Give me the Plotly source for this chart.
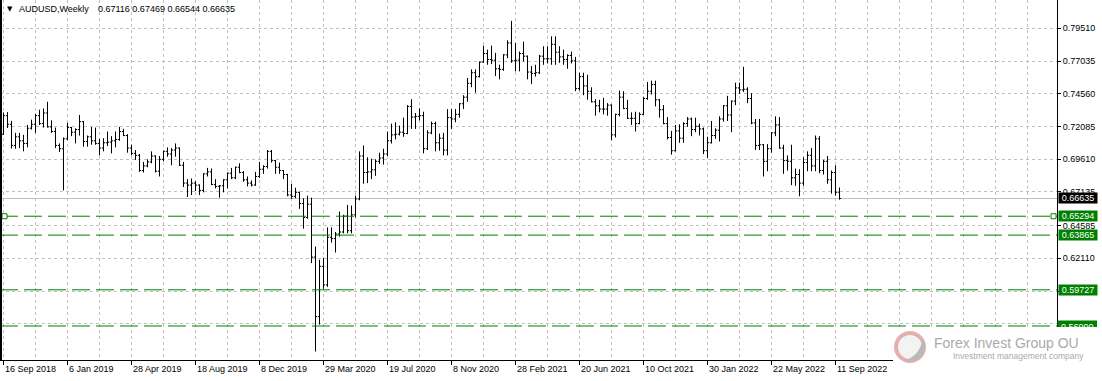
import plotly.graph_objects as go

# ---------------- data ----------------
opens = [
    .7150, .7290, .7225, .7065, .7130, .7100, .7080, .7195, .7225, .7290, .7230, .7310, .7205, .7170, .7065, .7040,
    .7115, .7200, .7165, .7185, .7245, .7095, .7130, .7100, .7080, .7045, .7085, .7090, .7100, .7110, .7170, .7140,
    .7045, .7005, .6990, .6875, .6910, .6940, .6985, .6870, .6960, .7020, .7000, .7030, .7045, .6915, .6780, .6765,
    .6780, .6765, .6725, .6850, .6865, .6770, .6755, .6760, .6805, .6855, .6820, .6900, .6860, .6805, .6780, .6765,
    .6830, .6885, .6905, .7020, .6950, .6900, .6875, .6845, .6690, .6680, .6710, .6625, .6520, .6620, .6220, .5770,
    .6150, .6010, .6370, .6360, .6395, .6410, .6530, .6420, .6540, .6660, .6985, .6860, .6865, .6880, .6945, .6970,
    .7000, .7100, .7145, .7150, .7165, .7155, .7360, .7280, .7285, .7290, .7040, .7160, .7230, .7085, .7120, .7030,
    .7275, .7265, .7300, .7380, .7430, .7535, .7615, .7585, .7695, .7760, .7715, .7710, .7645, .7640, .7750, .7840,
    .7705, .7710, .7760, .7740, .7620, .7610, .7615, .7740, .7720, .7720, .7830, .7770, .7735, .7715, .7745, .7705,
    .7495, .7585, .7515, .7475, .7395, .7365, .7340, .7340, .7370, .7145, .7300, .7430, .7345, .7270, .7270, .7230,
    .7300, .7420, .7475, .7525, .7410, .7335, .7230, .7125, .7025, .7175, .7120, .7230, .7265, .7185, .7210, .7190,
    .7025, .7085, .7140, .7180, .7265, .7365, .7295, .7400, .7500, .7485, .7490, .7420, .7235, .7065, .7070, .6945,
    .7040, .7160, .7220, .7045, .6950, .6945, .6820, .6845, .6780, .6935, .6990, .6910, .7115, .6875, .6945, .6805,
    .6860, .67116,
]
highs = [
    .7314, .7317, .7250, .7160, .7160, .7145, .7220, .7260, .7305, .7335, .7345, .7395, .7255, .7200, .7080, .7125,
    .7235, .7205, .7195, .7295, .7250, .7140, .7205, .7200, .7115, .7120, .7170, .7135, .7170, .7205, .7190, .7150,
    .7070, .7030, .7000, .6940, .6960, .7020, .6990, .6985, .7025, .7050, .7045, .7080, .7050, .6940, .6810, .6815,
    .6795, .6770, .6855, .6895, .6890, .6810, .6765, .6810, .6860, .6895, .6905, .6930, .6870, .6830, .6800, .6865,
    .6940, .6915, .7030, .7030, .6955, .6935, .6880, .6850, .6775, .6745, .6715, .6665, .6685, .6670, .6300, .6200,
    .6215, .6445, .6445, .6410, .6565, .6540, .6615, .6610, .6685, .7020, .7065, .6975, .6965, .6960, .7010, .7040,
    .7170, .7230, .7240, .7215, .7275, .7370, .7415, .7310, .7345, .7320, .7180, .7245, .7245, .7155, .7160, .7340,
    .7340, .7340, .7385, .7445, .7575, .7640, .7640, .7700, .7820, .7790, .7820, .7765, .7675, .7755, .7860, .8007,
    .7840, .7775, .7850, .7745, .7665, .7675, .7750, .7815, .7815, .7890, .7890, .7815, .7790, .7755, .7775, .7735,
    .7615, .7615, .7600, .7505, .7415, .7410, .7425, .7385, .7375, .7305, .7480, .7475, .7410, .7315, .7320, .7315,
    .7430, .7545, .7555, .7555, .7415, .7370, .7280, .7175, .7220, .7225, .7240, .7280, .7275, .7275, .7230, .7200,
    .7130, .7250, .7195, .7285, .7370, .7440, .7405, .7540, .7540, .7660, .7505, .7460, .7265, .7265, .7075, .7075,
    .7165, .7285, .7280, .7070, .6990, .7070, .6890, .6885, .6975, .7020, .7045, .7140, .7135, .6955, .6985, .6875,
    .6915, .67469,
]
lows = [
    .7145, .7197, .7042, .7040, .7045, .7020, .7050, .7185, .7160, .7220, .7200, .7200, .7160, .7045, .7015, .6725,
    .7105, .7135, .7080, .7140, .7055, .7055, .7070, .7070, .6990, .7020, .7060, .7005, .7050, .7100, .7135, .7010,
    .6990, .6955, .6865, .6860, .6900, .6930, .6860, .6830, .6945, .6980, .6915, .6980, .6910, .6750, .6675, .6690,
    .6720, .6690, .6710, .6830, .6765, .6740, .6670, .6710, .6740, .6810, .6810, .6855, .6790, .6755, .6755, .6760,
    .6820, .6850, .6890, .6935, .6850, .6850, .6810, .6680, .6660, .6665, .6585, .6435, .6510, .6175, .5506, .5710,
    .5980, .5995, .6330, .6255, .6375, .6400, .6400, .6400, .6520, .6650, .6775, .6780, .6810, .6835, .6925, .6920,
    .6985, .7080, .7110, .7140, .7130, .7150, .7190, .7190, .7255, .7005, .7030, .7150, .7020, .7025, .6990, .6990,
    .7190, .7240, .7275, .7340, .7395, .7505, .7465, .7580, .7690, .7675, .7680, .7590, .7565, .7630, .7725, .7690,
    .7625, .7625, .7700, .7565, .7530, .7585, .7605, .7675, .7685, .7675, .7675, .7690, .7675, .7645, .7685, .7475,
    .7480, .7445, .7410, .7390, .7290, .7315, .7300, .7290, .7105, .7125, .7285, .7340, .7265, .7220, .7170, .7225,
    .7295, .7410, .7450, .7360, .7275, .7225, .7110, .6995, .7020, .7085, .7085, .7205, .7135, .7165, .7140, .7000,
    .6970, .7080, .7115, .7095, .7245, .7250, .7165, .7370, .7455, .7470, .7385, .7225, .7030, .7030, .6830, .6870,
    .7010, .7135, .7040, .6850, .6875, .6765, .6760, .6680, .6760, .6870, .6870, .6870, .6855, .6845, .6775, .6700,
    .6685, .66544,
]
closes = [
    .7290, .7225, .7065, .7130, .7100, .7080, .7195, .7225, .7290, .7230, .7310, .7205, .7170, .7065, .7040, .7115,
    .7200, .7165, .7185, .7245, .7095, .7130, .7100, .7080, .7045, .7085, .7090, .7100, .7110, .7170, .7140, .7045,
    .7005, .6990, .6875, .6910, .6940, .6985, .6870, .6960, .7020, .7000, .7030, .7045, .6915, .6780, .6765, .6780,
    .6765, .6725, .6850, .6865, .6770, .6755, .6760, .6805, .6855, .6820, .6900, .6860, .6805, .6780, .6765, .6830,
    .6885, .6905, .7020, .6950, .6900, .6875, .6845, .6690, .6680, .6710, .6625, .6520, .6620, .6220, .5770, .6150,
    .6010, .6370, .6360, .6395, .6410, .6530, .6420, .6540, .6660, .6985, .6860, .6865, .6880, .6945, .6970, .7000,
    .7100, .7145, .7150, .7165, .7155, .7360, .7280, .7285, .7290, .7040, .7160, .7230, .7085, .7120, .7030, .7275,
    .7265, .7300, .7380, .7430, .7535, .7615, .7585, .7695, .7760, .7715, .7710, .7645, .7640, .7750, .7840, .7705,
    .7710, .7760, .7740, .7620, .7610, .7615, .7740, .7720, .7720, .7830, .7770, .7735, .7715, .7745, .7705, .7495,
    .7585, .7515, .7475, .7395, .7365, .7340, .7340, .7370, .7145, .7300, .7430, .7345, .7270, .7270, .7230, .7300,
    .7420, .7475, .7525, .7410, .7335, .7230, .7125, .7025, .7175, .7120, .7230, .7265, .7185, .7210, .7190, .7025,
    .7085, .7140, .7180, .7265, .7365, .7295, .7400, .7500, .7485, .7490, .7420, .7235, .7065, .7070, .6945, .7040,
    .7160, .7220, .7045, .6950, .6945, .6820, .6845, .6780, .6935, .6990, .6910, .7115, .6875, .6945, .6805, .6860,
    .6710, .66635,
]
bar_index = list(range(len(closes)))

date_labels = ["16 Sep 2018", "6 Jan 2019", "28 Apr 2019", "18 Aug 2019", "8 Dec 2019", "29 Mar 2020",
               "19 Jul 2020", "8 Nov 2020", "28 Feb 2021", "20 Jun 2021", "10 Oct 2021", "30 Jan 2022",
               "22 May 2022", "11 Sep 2022"]
label_every = 16
grid_every = 8

price_ticks = [0.79510, 0.77035, 0.74560, 0.72085, 0.69610, 0.67135, 0.64585, 0.62110, 0.59635, 0.57160]
green_levels = [0.65294, 0.63865, 0.59727, 0.56990]
current_price = 0.66635
title_symbol = "AUDUSD,Weekly"
title_values = ["0.67116", "0.67469", "0.66544", "0.66635"]

# ---------------- layout helpers (pixels -> paper) ----------------
W, H = 1102, 381
PW, PH = 1057, 360  # plot area size in px
Y_RANGE = [0.54417, 0.81651]
UNITS_PER_PX = (Y_RANGE[1] - Y_RANGE[0]) / PH
def px(x):
    return x / PW
def py(y):
    return 1 - y / PH

FONT = "Liberation Sans, Arial, sans-serif"
GRID = "#c0c0c0"
GREEN = "#008000"

fig = go.Figure()
fig.add_trace(go.Ohlc(
    x=bar_index, open=opens, high=highs, low=lows, close=closes,
    increasing=dict(line=dict(color="black", width=1)),
    decreasing=dict(line=dict(color="black", width=1)),
    tickwidth=0.4, hoverinfo="skip", showlegend=False,
))

shapes = []
# current price line
shapes.append(dict(type="line", xref="paper", x0=0, x1=1, yref="y", y0=current_price, y1=current_price,
                   line=dict(color=GRID, width=1), layer="below"))
# green level lines
for lv in green_levels:
    shapes.append(dict(type="line", xref="paper", x0=0, x1=1, yref="y", y0=lv, y1=lv,
                       line=dict(color=GREEN, width=1, dash="18px,6px"), layer="above"))
# selection squares on the first level
for xx in (4.5, 1053.5):
    shapes.append(dict(type="rect", xref="paper", x0=px(xx - 2.5), x1=px(xx + 2.5),
                       yref="y", ysizemode="pixel", yanchor=green_levels[0], y0=-2.5, y1=2.5,
                       line=dict(color=GREEN, width=1), fillcolor="white", layer="above"))
# left border
shapes.append(dict(type="line", xref="paper", x0=px(1), x1=px(1), yref="paper", y0=0, y1=1,
                   line=dict(color="black", width=2), layer="above"))
# bottom price box (mostly hidden behind the watermark)
hb = 5.5 * UNITS_PER_PX
shapes.append(dict(type="rect", xref="paper", x0=px(1057.5), x1=px(1097), yref="y",
                   y0=green_levels[3] - hb, y1=green_levels[3] + hb,
                   fillcolor=GREEN, line=dict(width=0), layer="above",
                   label=dict(text=f"{green_levels[3]:.5f}", textposition="middle center",
                              font=dict(family=FONT, size=9, color="white"))))
# watermark background
shapes.append(dict(type="rect", xref="paper", yref="paper", x0=px(893), x1=px(1102), y0=py(381), y1=py(327),
                   fillcolor="white", line=dict(width=0), layer="above"))
# watermark logo
cx, cy, r = 910, 347, 14
shapes.append(dict(type="circle", xref="paper", yref="paper", x0=px(cx - r), x1=px(cx + r),
                   y0=py(cy + r), y1=py(cy - r), fillcolor="#f3f3f3",
                   line=dict(color="rgba(220,150,150,0.75)", width=4), layer="above"))
def pt(x, y):
    return f"{px(x)},{py(y)}"
crescent = (f"M{pt(923, 340)} C{pt(928, 352)} {pt(920, 362)} {pt(906, 361)} "
            f"C{pt(916, 356)} {pt(921, 350)} {pt(923, 340)} Z")
shapes.append(dict(type="path", xref="paper", yref="paper", path=crescent,
                   fillcolor="#b9b9b9", line=dict(color="#b9b9b9", width=1), layer="above"))

annotations = []
# x labels, left aligned at ticks
for i, lab in enumerate(date_labels):
    annotations.append(dict(x=i * label_every, xref="x", y=py(362), yref="paper", text=lab,
                            showarrow=False, xanchor="left", yanchor="top", xshift=-1,
                            font=dict(family=FONT, size=9, color="black")))
# price boxes
annotations.append(dict(x=px(1057.5), xref="paper", y=current_price, yref="y", text=f"{current_price:.5f}",
                        showarrow=False, xanchor="left", yanchor="middle", bgcolor="black",
                        width=38, height=10, borderpad=0, align="center",
                        font=dict(family=FONT, size=9, color="white")))
for lv in green_levels[:3]:
    annotations.append(dict(x=px(1057.5), xref="paper", y=lv, yref="y", text=f"{lv:.5f}",
                            showarrow=False, xanchor="left", yanchor="middle", bgcolor=GREEN,
                            width=38, height=10, borderpad=0, align="center",
                            font=dict(family=FONT, size=9, color="white")))
# title
annotations.append(dict(x=px(5), xref="paper", y=py(9), yref="paper", text="▼", showarrow=False,
                        xanchor="left", yanchor="middle", font=dict(family="DejaVu Sans", size=7, color="black")))
annotations.append(dict(x=px(17), xref="paper", y=py(9), yref="paper", text=title_symbol, showarrow=False,
                        xanchor="left", yanchor="middle", font=dict(family=FONT, size=9, color="black")))
annotations.append(dict(x=px(96), xref="paper", y=py(9), yref="paper", text=" ".join(title_values),
                        showarrow=False, xanchor="left", yanchor="middle",
                        font=dict(family=FONT, size=9, color="black")))
# watermark texts
annotations.append(dict(x=px(932), xref="paper", y=py(343), yref="paper", text="Forex Invest Group OU",
                        showarrow=False, xanchor="left", yanchor="middle",
                        font=dict(family=FONT, size=14, color="#aaaaaa")))
annotations.append(dict(x=px(951), xref="paper", y=py(356), yref="paper", text="Investment management company",
                        showarrow=False, xanchor="left", yanchor="middle",
                        font=dict(family=FONT, size=8.5, color="#aaaaaa")))

minor_vals = [v for v in range(0, 264, grid_every) if v % label_every != 0 or v > (len(date_labels) - 1) * label_every]

fig.update_layout(
    width=W, height=H, margin=dict(l=0, r=W - PW, t=0, b=H - PH),
    paper_bgcolor="white", plot_bgcolor="white",
    shapes=shapes, annotations=annotations, showlegend=False,
    xaxis=dict(range=[-0.875, 263.375], rangeslider=dict(visible=False),
               tickvals=[i * label_every for i in range(len(date_labels))],
               ticktext=["" for _ in date_labels],
               showgrid=True, gridcolor=GRID, griddash="3px,3px", gridwidth=1,
               minor=dict(tickvals=minor_vals, showgrid=True, gridcolor=GRID, griddash="3px,3px", ticks=""),
               showline=True, linecolor="black", linewidth=1,
               ticks="outside", ticklen=4, tickcolor="black", zeroline=False, fixedrange=True),
    yaxis=dict(side="right", range=Y_RANGE, tickvals=price_ticks,
               ticktext=[f"{v:.5f}" for v in price_ticks],
               showgrid=True, gridcolor=GRID, griddash="3px,3px", gridwidth=1,
               showline=True, linecolor="black", linewidth=1,
               ticks="outside", ticklen=3, tickcolor="black",
               tickfont=dict(family=FONT, size=9, color="black"), zeroline=False),
)

fig.write_html("out.html")
